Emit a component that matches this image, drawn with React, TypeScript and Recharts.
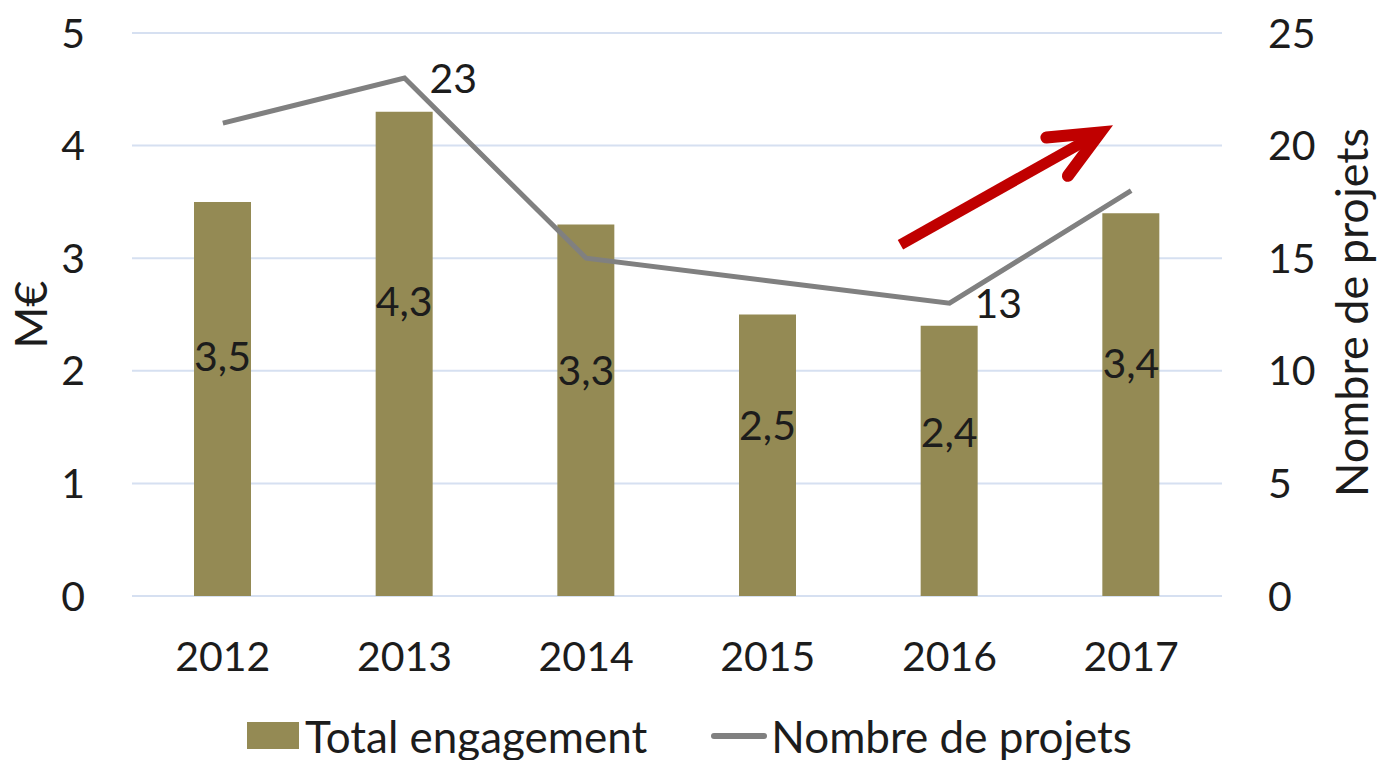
import React from 'react';
import {
  ComposedChart,
  Bar,
  Line,
  XAxis,
  YAxis,
  CartesianGrid,
  Legend,
  LabelList,
  ReferenceLine,
} from 'recharts';

const years = ['2012', '2013', '2014', '2015', '2016', '2017'];
const totalEngagement = [3.5, 4.3, 3.3, 2.5, 2.4, 3.4];
const nombreProjets = [21, 23, 15, 14, 13, 18];
const projetsLabelShown = [false, true, false, false, true, false];
const leftTicks = [0, 1, 2, 3, 4, 5];
const rightTicks = [0, 5, 10, 15, 20, 25];
const seriesNames = ['Total engagement', 'Nombre de projets'];
const axisTitles = ['M€', 'Nombre de projets'];
// trend arrow annotation, in data units (hidden numeric x axis 0..6 spanning the category bands, right y axis)
const arrowStart = { x: 4.23, y: 15.6 };
const arrowEnd = { x: 5.4, y: 20.9 };

const data = years.map((year, i) => ({
  year,
  pos: i + 0.5,
  total: totalEngagement[i],
  projets: nombreProjets[i],
  projetsLabel: projetsLabelShown[i] ? String(nombreProjets[i]) : '',
}));

const FONT = 'Lato, "Noto Sans", sans-serif';
const FS = 41;
const FS_BIG = 45;
const TEXT = '#1c1c1c';
const BAR = '#948A54';
const LINE = '#808080';
const GRID = '#D6E0F1';
const RED = '#C00000';

const fmt = (v: any) => String(v).replace('.', ',');

const BarLabel = (props: any) => {
  const { x, y, width, height, value } = props;
  if (x == null) return null;
  return (
    <text
      x={Number(x) + Number(width) / 2}
      y={Number(y) + Number(height) * 0.39}
      textAnchor="middle"
      dominantBaseline="central"
      fontSize={FS}
      fill={TEXT}
      fontFamily={FONT}
    >
      {fmt(value)}
    </text>
  );
};

const ArrowShape = (props: any) => {
  const { x1, y1, x2, y2 } = props;
  const dx = x2 - x1;
  const dy = y2 - y1;
  const len = Math.sqrt(dx * dx + dy * dy);
  const ux = dx / len;
  const uy = dy / len;
  const back = Math.atan2(-uy, -ux);
  const wingAng = (24 * Math.PI) / 180;
  const wingLen = 54;
  const sw = 12;
  const inset = (sw / 2) / Math.sin(wingAng);
  const tx = x2 - ux * inset;
  const ty = y2 - uy * inset;
  const w1x = tx + Math.cos(back + wingAng) * wingLen;
  const w1y = ty + Math.sin(back + wingAng) * wingLen;
  const w2x = tx + Math.cos(back - wingAng) * wingLen;
  const w2y = ty + Math.sin(back - wingAng) * wingLen;
  return (
    <g>
      <line x1={x1} y1={y1} x2={tx - ux * 4} y2={ty - uy * 4} stroke={RED} strokeWidth={11} strokeLinecap="butt" />
      <path
        d={`M${w1x},${w1y} L${tx},${ty} L${w2x},${w2y}`}
        fill="none"
        stroke={RED}
        strokeWidth={sw}
        strokeLinecap="round"
        strokeLinejoin="miter"
        strokeMiterlimit={10}
      />
    </g>
  );
};

const LegendContent = () => (
  <div
    style={{
      display: 'flex',
      justifyContent: 'center',
      alignItems: 'center',
      height: 54,
      paddingTop: 5,
      boxSizing: 'border-box',
      fontFamily: FONT,
      fontSize: 44,
      color: TEXT,
      whiteSpace: 'nowrap',
    }}
  >
    <span style={{ display: 'inline-block', width: 52, height: 27, background: BAR, marginRight: 6 }} />
    <span style={{ marginRight: 64 }}>{seriesNames[0]}</span>
    <span style={{ display: 'inline-block', width: 56, height: 6, borderRadius: 3, background: LINE, marginRight: 4 }} />
    <span>{seriesNames[1]}</span>
  </div>
);

const LeftTitle = (props: any) => {
  const vb = props.viewBox || {};
  const cx = vb.x + 30;
  const cy = vb.y + vb.height / 2;
  return (
    <text x={cx} y={cy} transform={`rotate(-90, ${cx}, ${cy})`} textAnchor="middle" dominantBaseline="central" fontSize={FS_BIG} fill={TEXT} fontFamily={FONT}>
      {axisTitles[0]}
    </text>
  );
};

const RightTitle = (props: any) => {
  const vb = props.viewBox || {};
  const cx = vb.x + 129;
  const cy = vb.y + vb.height / 2 - 2;
  return (
    <text x={cx} y={cy} transform={`rotate(-90, ${cx}, ${cy})`} textAnchor="middle" dominantBaseline="central" fontSize={FS_BIG} fill={TEXT} fontFamily={FONT}>
      {axisTitles[1]}
    </text>
  );
};

export default function App() {
  const tick = { fontSize: FS, fill: TEXT, fontFamily: FONT };
  return (
    <div style={{ position: 'absolute', left: 0, top: 0, width: 1379, height: 760, background: '#fff', fontFamily: FONT }}>
      <ComposedChart width={1379} height={760} data={data} margin={{ top: 33, right: 0, bottom: 0, left: 0 }}>
        <CartesianGrid yAxisId="left" xAxisId="cat" vertical={false} stroke={GRID} strokeWidth={2} />
        <XAxis
          xAxisId="cat"
          dataKey="year"
          height={110}
          tickLine={false}
          axisLine={false}
          tickSize={0}
          tickMargin={46}
          tick={tick}
          interval={0}
        />
        <XAxis xAxisId="num" dataKey="pos" type="number" domain={[0, 6]} allowDataOverflow hide />
        <YAxis
          yAxisId="left"
          domain={[0, 5]}
          ticks={leftTicks}
          width={132}
          tickLine={false}
          axisLine={false}
          tickSize={0}
          tickMargin={47}
          tick={tick}
          label={LeftTitle}
        />
        <YAxis
          yAxisId="right"
          orientation="right"
          domain={[0, 25]}
          ticks={rightTicks}
          width={157}
          tickLine={false}
          axisLine={false}
          tickSize={0}
          tickMargin={46}
          tick={{ ...tick, textAnchor: 'start' }}
          label={RightTitle}
        />
        <Legend verticalAlign="bottom" height={54} content={LegendContent} />
        <Bar xAxisId="cat" yAxisId="left" dataKey="total" name={seriesNames[0]} fill={BAR} barSize={57} isAnimationActive={false}>
          <LabelList dataKey="total" content={BarLabel} />
        </Bar>
        <Line
          xAxisId="cat"
          yAxisId="right"
          dataKey="projets"
          name={seriesNames[1]}
          stroke={LINE}
          strokeWidth={5}
          dot={false}
          activeDot={false}
          isAnimationActive={false}
        >
          <LabelList dataKey="projetsLabel" position="right" offset={25} fontSize={FS} fill={TEXT} fontFamily={FONT} />
        </Line>
        <ReferenceLine
          xAxisId="num"
          yAxisId="right"
          segment={[arrowStart, arrowEnd]}
          shape={ArrowShape}
          ifOverflow="visible"
        />
      </ComposedChart>
    </div>
  );
}
